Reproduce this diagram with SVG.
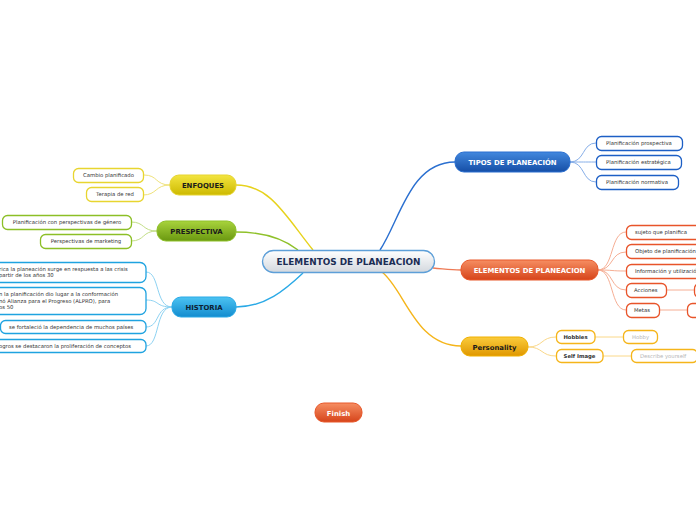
<svg xmlns="http://www.w3.org/2000/svg" width="696" height="520" viewBox="0 0 696 520">
<defs>
<linearGradient id="gC" x1="0" y1="0" x2="0" y2="1"><stop offset="0" stop-color="#ffffff"/><stop offset="1" stop-color="#d3d8de"/></linearGradient>
<linearGradient id="gY" x1="0" y1="0" x2="0" y2="1"><stop offset="0" stop-color="#f3e540"/><stop offset="1" stop-color="#cdb900"/></linearGradient>
<linearGradient id="gG" x1="0" y1="0" x2="0" y2="1"><stop offset="0" stop-color="#a8d33c"/><stop offset="1" stop-color="#6a9810"/></linearGradient>
<linearGradient id="gB" x1="0" y1="0" x2="0" y2="1"><stop offset="0" stop-color="#4cc3f2"/><stop offset="1" stop-color="#138ccf"/></linearGradient>
<linearGradient id="gD" x1="0" y1="0" x2="0" y2="1"><stop offset="0" stop-color="#4288de"/><stop offset="1" stop-color="#154ea6"/></linearGradient>
<linearGradient id="gO" x1="0" y1="0" x2="0" y2="1"><stop offset="0" stop-color="#f68e62"/><stop offset="1" stop-color="#d6441a"/></linearGradient>
<linearGradient id="gP" x1="0" y1="0" x2="0" y2="1"><stop offset="0" stop-color="#fbcc3c"/><stop offset="1" stop-color="#df9700"/></linearGradient>
</defs>
<style>
text{font-family:"DejaVu Sans","Verdana",sans-serif}
.main{font-weight:bold;font-size:6.9px;text-anchor:middle}
.sub{font-size:5.3px;fill:#333}
.c{text-anchor:middle}
.box{fill:#fff;stroke-width:1.3}
.ln{fill:none;stroke-width:1}
.lm{fill:none;stroke-width:1.4}
</style>

<g id="connectors">
<path class="lm" stroke="#e7d21c" d="M236,185 C270,185 285,215 313,250"/>
<path class="lm" stroke="#8fc12a" d="M236,232 C265,232 285,240 298,250"/>
<path class="lm" stroke="#2aa9e6" d="M236,307 C265,307 285,290 303,273"/>
<path class="lm" stroke="#2a6fd0" d="M380,250 C400,220 410,162 455,162"/>
<path class="lm" stroke="#ee7a55" d="M433,268 C445,269 450,270 461,270"/>
<path class="lm" stroke="#f5b51a" d="M382,272 C405,290 415,346 461,346"/>

<g stroke="#efe27a" class="ln">
<path d="M170,185 C155,185 158,175 144,175"/>
<path d="M170,185 C155,185 157,195 143,195"/>
</g>
<g stroke="#c2de86" class="ln">
<path d="M157,231 C142,231 145,222 131,222"/>
<path d="M157,231 C142,231 145,241 131,241"/>
</g>
<g stroke="#8dd2f2" class="ln">
<path d="M172,307 C155,307 160,272 146,272"/>
<path d="M172,307 C155,307 160,300 146,300"/>
<path d="M172,307 C155,307 160,327 146,327"/>
<path d="M172,307 C155,307 160,346 146,346"/>
</g>
<g stroke="#86aee8" class="ln">
<path d="M570,162 C585,162 582,143 596,143"/>
<path d="M570,162 C585,162 582,162 596,162"/>
<path d="M570,162 C585,162 582,182 596,182"/>
</g>
<g stroke="#f6ae94" class="ln">
<path d="M598,270 C614,270 610,232 626,232"/>
<path d="M598,270 C614,270 610,252 626,252"/>
<path d="M598,270 C614,270 610,271 626,271"/>
<path d="M598,270 C614,270 610,290 626,290"/>
<path d="M598,270 C614,270 610,310 626,310"/>
<path d="M667,290 L694,290"/>
<path d="M660,310 L687,310"/>
</g>
<g stroke="#fad889" class="ln">
<path d="M528,347 C543,347 541,337 556,337"/>
<path d="M528,347 C543,347 541,356 556,356"/>
<path d="M595,337 L623,337"/>
<path d="M603,356 L631,356"/>
</g>
</g>

<g id="central">
<rect x="262.5" y="250.5" width="172" height="22" rx="11" fill="url(#gC)" stroke="#5d9fd8" stroke-width="1.3"/>
<text x="348.5" y="264.7" font-size="8.9" font-weight="bold" fill="#1b2d55" text-anchor="middle">ELEMENTOS DE PLANEACION</text>
</g>

<g id="enfoques">
<rect x="170" y="175" width="66" height="20" rx="9" fill="url(#gY)" stroke="#e6d430"/>
<text class="main" x="203" y="188" fill="#1a1a1a">ENFOQUES</text>
</g>
<g id="enfoques-1"><rect class="box" x="73.5" y="168.5" width="70" height="14" rx="5" stroke="#e8d530"/><text class="sub c" x="108.5" y="177.4">Cambio planificado</text></g>
<g id="enfoques-2"><rect class="box" x="86.5" y="187.5" width="57" height="14" rx="5" stroke="#e8d530"/><text class="sub c" x="115" y="196.4">Terapia de red</text></g>

<g id="prespectiva">
<rect x="157" y="221" width="79" height="20" rx="9" fill="url(#gG)" stroke="#8fc12a"/>
<text class="main" x="196.5" y="234" fill="#1a1a1a">PRESPECTIVA</text>
</g>
<g id="prespectiva-1"><rect class="box" x="2.5" y="215.5" width="129" height="14" rx="5" stroke="#8cbf26"/><text class="sub c" x="67" y="224.4">Planificación con perspectivas de género</text></g>
<g id="prespectiva-2"><rect class="box" x="40.5" y="234.5" width="91" height="14" rx="5" stroke="#8cbf26"/><text class="sub c" x="86" y="243.4">Perspectivas de marketing</text></g>

<g id="historia">
<rect x="172" y="297" width="64" height="20" rx="9" fill="url(#gB)" stroke="#2aa9e6"/>
<text class="main" x="204" y="310" fill="#0d1f33">HISTORIA</text>
</g>
<g id="historia-1"><rect class="box" x="-20" y="262.5" width="166" height="20" rx="6" stroke="#1fa3e0"/><text class="sub" x="-1" y="270.7">rica la planeación surge en respuesta a las crisis</text><text class="sub" x="-1" y="277.2">partir de los años 30</text></g>
<g id="historia-2"><rect class="box" x="-20" y="287.5" width="166" height="27" rx="6" stroke="#1fa3e0"/><text class="sub" x="-1" y="296">n la planificación dio lugar a la conformación</text><text class="sub" x="-1" y="302.5">nó Alianza para el Progreso (ALPRO), para</text><text class="sub" x="-1" y="309">os 50</text></g>
<g id="historia-3"><rect class="box" x="0.5" y="320.5" width="145.5" height="13" rx="5" stroke="#1fa3e0"/><text class="sub" x="9" y="328.9">se fortaleció la dependencia de muchos países</text></g>
<g id="historia-4"><rect class="box" x="-20" y="339.5" width="166" height="13" rx="5" stroke="#1fa3e0"/><text class="sub" x="-1" y="347.9">ogros se destacaron la proliferación de conceptos</text></g>

<g id="tipos">
<rect x="455" y="152" width="115" height="20" rx="9" fill="url(#gD)" stroke="#2a6fd0"/>
<text class="main" x="512.5" y="165" fill="#ffffff">TIPOS DE PLANEACIÓN</text>
</g>
<g id="tipos-1"><rect class="box" x="596.5" y="136.5" width="86" height="14" rx="5" stroke="#1d5fc5"/><text class="sub" x="606" y="145.4">Planificación prospectiva</text></g>
<g id="tipos-2"><rect class="box" x="596.5" y="155.5" width="85" height="14" rx="5" stroke="#1d5fc5"/><text class="sub" x="606" y="164.4">Planificación estratégica</text></g>
<g id="tipos-3"><rect class="box" x="596.5" y="175.5" width="82" height="14" rx="5" stroke="#1d5fc5"/><text class="sub" x="606" y="184.4">Planificación normativa</text></g>

<g id="elementos">
<rect x="461" y="260" width="137" height="20" rx="9" fill="url(#gO)" stroke="#e8582a"/>
<text class="main" x="529.5" y="273" fill="#ffffff">ELEMENTOS DE PLANEACION</text>
</g>
<g id="elementos-1"><rect class="box" x="626.5" y="225.5" width="80" height="14" rx="5" stroke="#e8542a"/><text class="sub" x="635" y="234.4">sujeto que planifica</text></g>
<g id="elementos-2"><rect class="box" x="626.5" y="244.5" width="80" height="14" rx="5" stroke="#e8542a"/><text class="sub" x="635" y="253.4">Objeto de planificación</text></g>
<g id="elementos-3"><rect class="box" x="626.5" y="264.5" width="80" height="14" rx="5" stroke="#e8542a"/><text class="sub" x="635" y="273.4">Información y utilización</text></g>
<g id="elementos-4"><rect class="box" x="626.5" y="283.5" width="40" height="14" rx="5" stroke="#e8542a"/><text class="sub" x="634" y="292.4">Acciones</text></g>
<g id="elementos-5"><rect class="box" x="626.5" y="303.5" width="33" height="14" rx="5" stroke="#e8542a"/><text class="sub" x="634" y="312.4">Metas</text></g>
<g id="acciones-1"><rect class="box" x="694.5" y="283.5" width="20" height="14" rx="5" stroke="#e8542a"/></g>
<g id="metas-1"><rect class="box" x="687.5" y="303.5" width="20" height="14" rx="5" stroke="#e8542a"/></g>

<g id="personality">
<rect x="461" y="337" width="67" height="19" rx="9" fill="url(#gP)" stroke="#f0b000"/>
<text class="main" x="494.5" y="349.5" fill="#1a1a1a">Personality</text>
</g>
<g id="hobbies"><rect class="box" x="556.5" y="330.5" width="38.5" height="13" rx="5" stroke="#f5b51a"/><text class="sub c" x="575.5" y="339" font-weight="bold" fill="#222">Hobbies</text></g>
<g id="selfimage"><rect class="box" x="556.5" y="349.5" width="46.5" height="13" rx="5" stroke="#f5b51a"/><text class="sub c" x="579.5" y="358" font-weight="bold" fill="#222">Self Image</text></g>
<g id="hobby"><rect class="box" x="623.5" y="330.5" width="34" height="13" rx="5" stroke="#f5b51a"/><text class="sub c" x="640.5" y="339" style="fill:#b5b5b5">Hobby</text></g>
<g id="describe"><rect class="box" x="631.5" y="349.5" width="66" height="13" rx="5" stroke="#f5b51a"/><text class="sub" x="640" y="358" style="fill:#b5b5b5">Describe yourself</text></g>

<g id="finish">
<rect x="315" y="403" width="47" height="19" rx="9" fill="url(#gO)" stroke="#e8582a"/>
<text class="main" x="338.5" y="415.5" fill="#ffffff">Finish</text>
</g>
</svg>
